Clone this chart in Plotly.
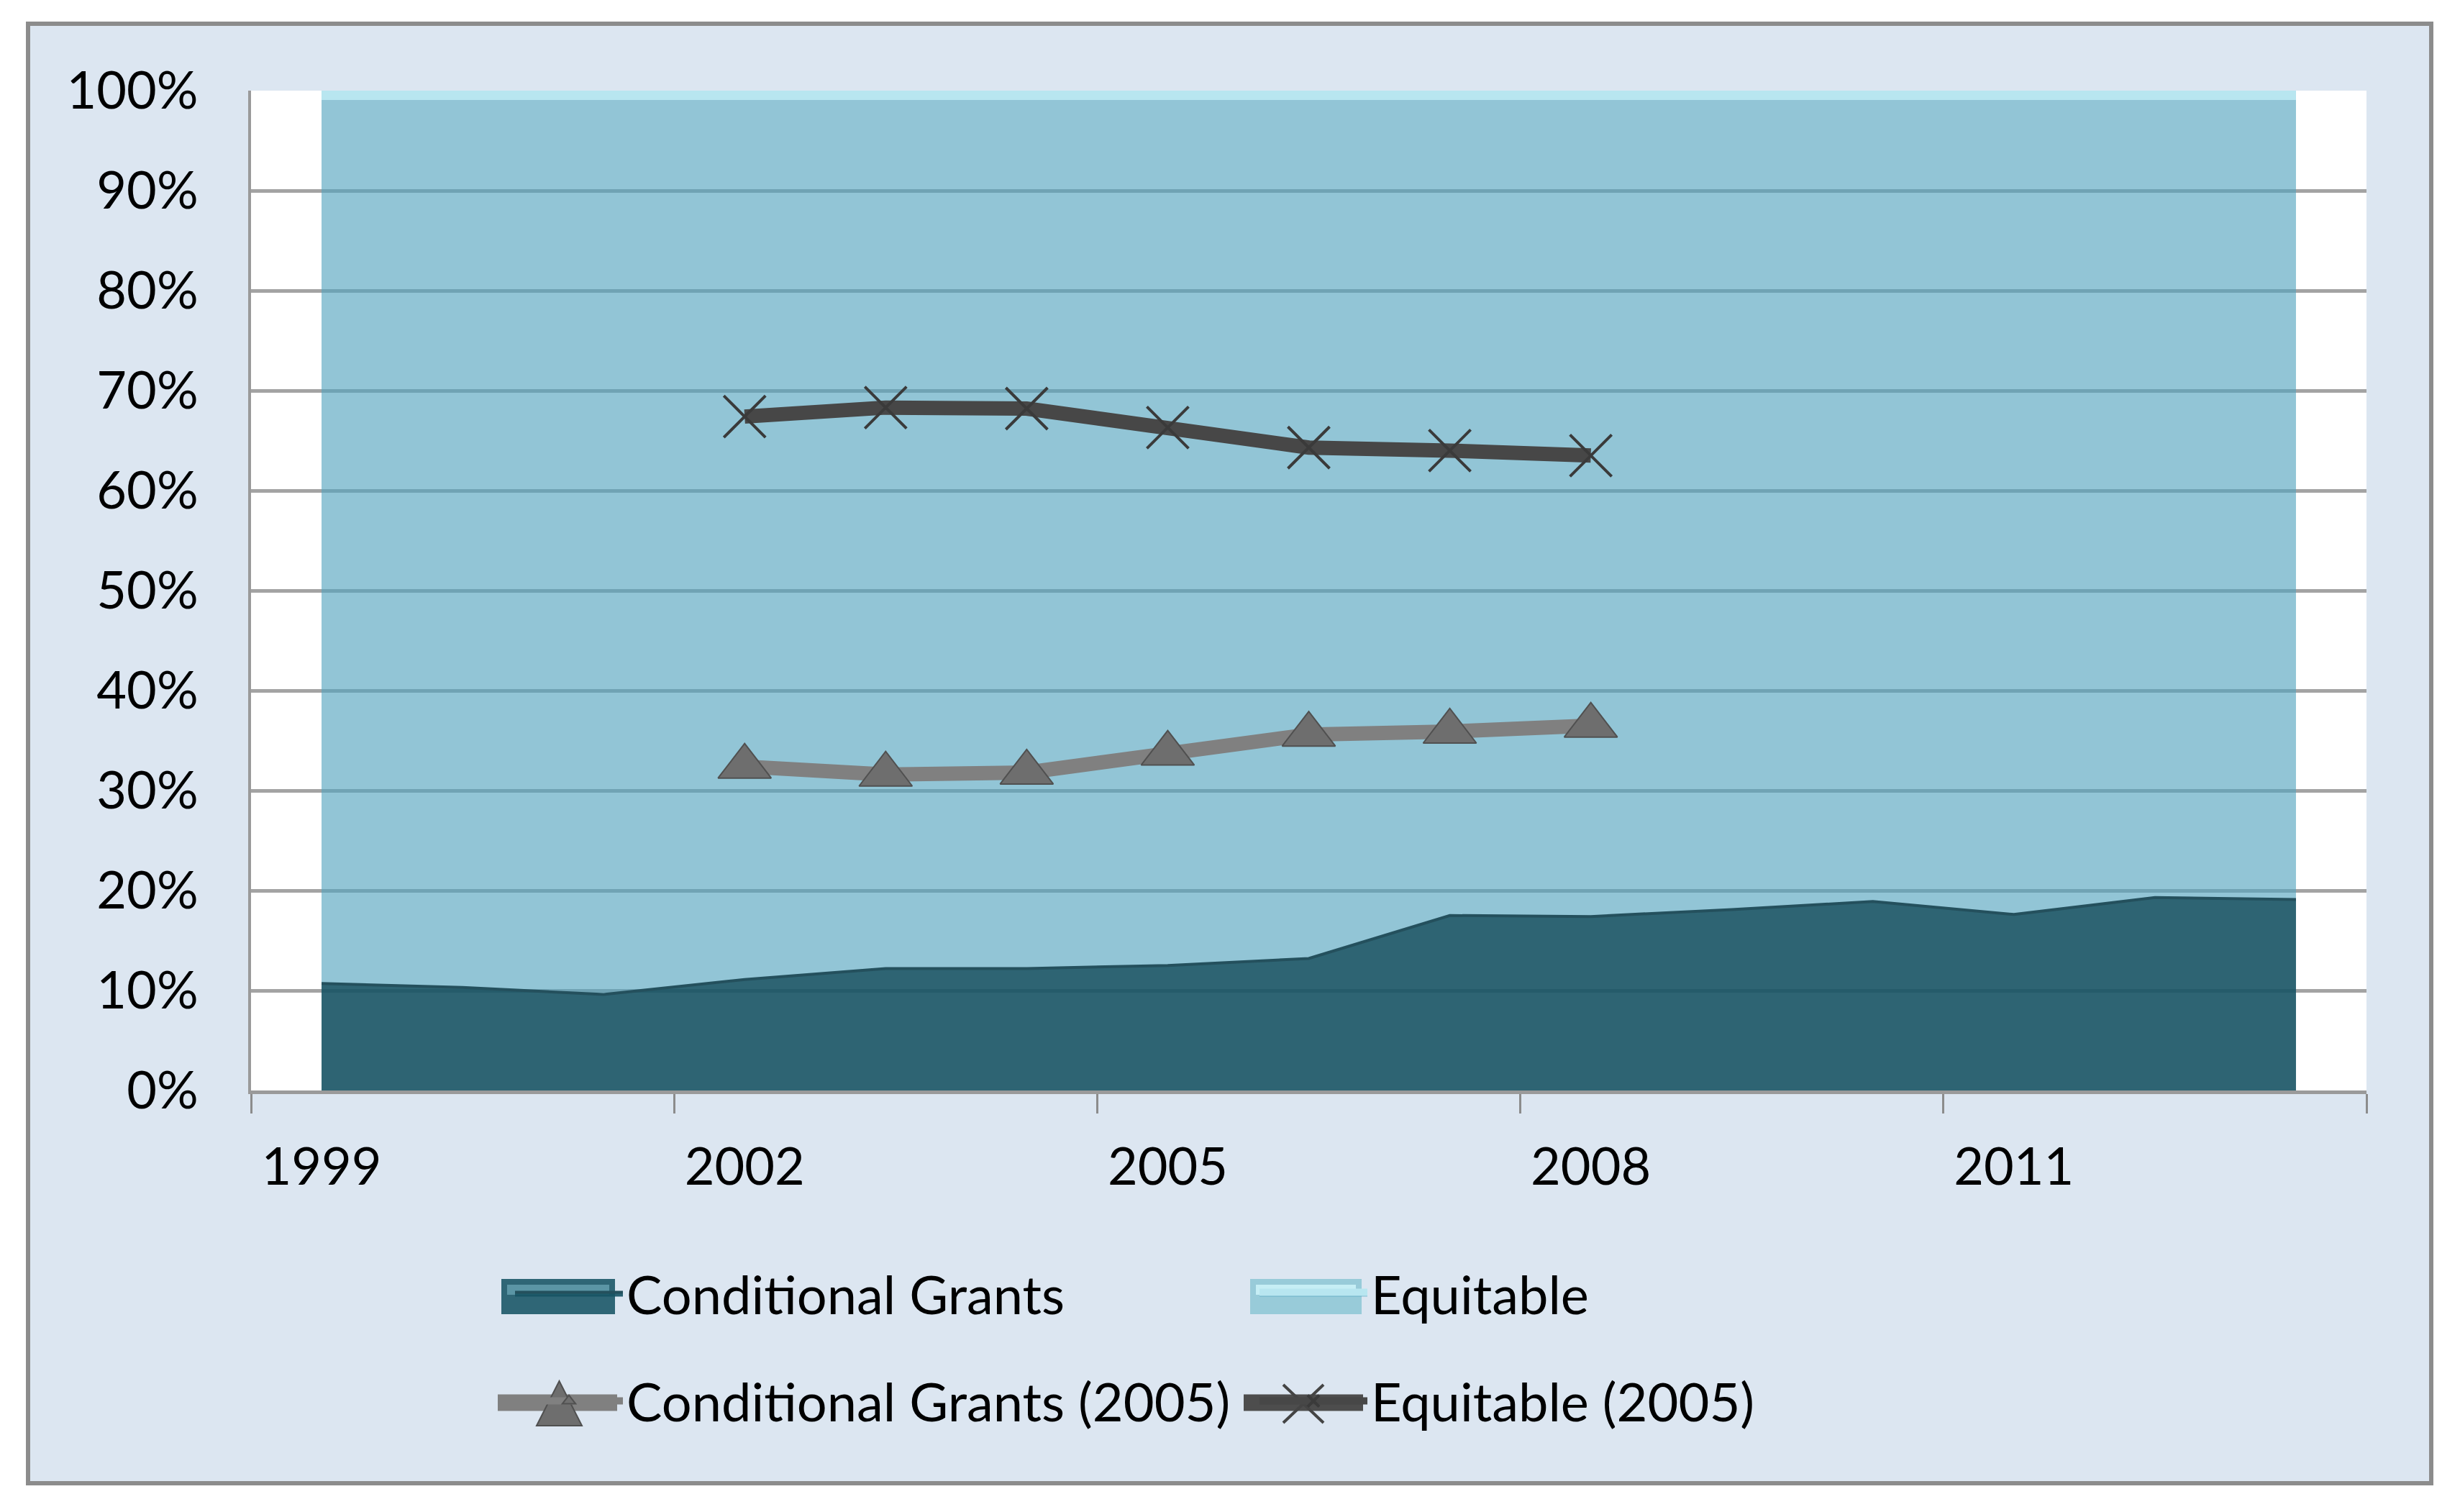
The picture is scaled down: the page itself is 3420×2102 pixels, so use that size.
import plotly.graph_objects as go

# ---------------- data ----------------
years = [1999, 2000, 2001, 2002, 2003, 2004, 2005, 2006, 2007, 2008, 2009, 2010, 2011, 2012, 2013]
conditional_grants = [10.7, 10.3, 9.6, 11.1, 12.2, 12.2, 12.5, 13.2, 17.5, 17.4, 18.1, 18.9, 17.6, 19.3, 19.1]
equitable = [89.3, 89.7, 90.4, 88.9, 87.8, 87.8, 87.5, 86.8, 82.5, 82.6, 81.9, 81.1, 82.4, 80.7, 80.9]

years_2005 = [2002, 2003, 2004, 2005, 2006, 2007, 2008]
conditional_grants_2005 = [32.4, 31.6, 31.8, 33.7, 35.6, 35.9, 36.5]
equitable_2005 = [67.4, 68.3, 68.2, 66.3, 64.3, 64.0, 63.5]

tick_years = [1999, 2002, 2005, 2008, 2011]
tick_labels = ["1999", "2002", "2005", "2008", "2011"]
y_ticks = [0, 10, 20, 30, 40, 50, 60, 70, 80, 90, 100]
y_tick_labels = ["0%", "10%", "20%", "30%", "40%", "50%", "60%", "70%", "80%", "90%", "100%"]

# ---------------- style ----------------
FONT = "Lato, Carlito, Calibri, sans-serif"
FS = 72
BG = "#dce6f1"
CG_COL = "#2f6676"
EQ_COL = "#98cbd9"
CG05_COL = "#808080"
EQ05_COL = "#474747"
x_range = [years[0] - 0.5, years[-1] + 0.5]
boundary_ticks = [y - 0.5 for y in years[::3]] + [years[-1] + 0.5]

fig = go.Figure()

fig.add_trace(go.Scatter(
    x=years, y=conditional_grants, name="Conditional Grants",
    stackgroup="one", mode="lines",
    line=dict(color="#24505d", width=4),
    fillcolor="rgba(23,83,100,0.90)",
    legend="legend",
))
fig.add_trace(go.Scatter(
    x=years, y=equitable, name="Equitable",
    stackgroup="one", mode="lines",
    line=dict(color="#b8e6f0", width=26),
    fillcolor="rgba(82,163,190,0.63)",
    legend="legend",
))
fig.add_trace(go.Scatter(
    x=years_2005, y=conditional_grants_2005, name="Conditional Grants (2005)",
    mode="lines+markers",
    line=dict(color=CG05_COL, width=20),
    marker=dict(symbol="triangle-up", size=64, color="#6e6e6e",
                line=dict(color="#505050", width=2)),
    legend="legend2",
))
fig.add_trace(go.Scatter(
    x=years_2005, y=equitable_2005, name="Equitable (2005)",
    mode="lines+markers",
    line=dict(color=EQ05_COL, width=20),
    marker=dict(symbol="x-thin", size=58, color="#3a3a3a",
                line=dict(color="#3a3a3a", width=4)),
    legend="legend2",
))

# page is offset by the default 8px body margin of the html page
OFF = 8
PAGE_W, PAGE_H = 3420, 2102
W, H = PAGE_W - OFF, PAGE_H - OFF
# plot area in page pixels
PL, PR, PT, PB = 349, 3290, 126, 1516
L, R, T, B = PL - OFF, W - (PR - OFF), PT - OFF, H - (PB - OFF)
pw, ph = PR - PL, PB - PT

def px_x(p):
    return (p - PL) / pw

def px_y(p):
    return (PB - p) / ph

legend_common = dict(
    orientation="h", xanchor="left", yanchor="middle",
    bgcolor="rgba(0,0,0,0)", font=dict(family=FONT, size=74, color="#000000"),
    itemwidth=150, entrywidth=870, traceorder="normal",
)

# larger legend swatches (decoration drawn over the legend symbols)
def rect(x0, y0, x1, y1, color):
    return dict(type="rect", xref="paper", yref="paper", layer="above",
                x0=px_x(x0), x1=px_x(x1), y0=px_y(y1), y1=px_y(y0),
                fillcolor=color, line=dict(width=0))

def seg(x0, y0, x1, y1, color, width):
    return dict(type="line", xref="paper", yref="paper", layer="above",
                x0=px_x(x0), x1=px_x(x1), y0=px_y(y0), y1=px_y(y1),
                line=dict(color=color, width=width))

tri_path = "M{},{} L{},{} L{},{} Z".format(
    px_x(746), px_y(1982), px_x(809), px_y(1982), px_x(777.5), px_y(1920))

legend_swatches = [
    rect(697, 1778, 855, 1827, CG_COL),
    rect(705, 1786, 847, 1800, "#5b95a5"),
    rect(1738, 1778, 1893, 1827, EQ_COL),
    rect(1746, 1786, 1885, 1800, "#c6eef5"),
    seg(692, 1950, 858, 1950, CG05_COL, 23),
    dict(type="path", xref="paper", yref="paper", layer="above", path=tri_path,
         fillcolor="#6e6e6e", line=dict(color="#505050", width=2)),
    seg(1729, 1950, 1895, 1950, "#4d4d4d", 23),
    seg(1784, 1925, 1840, 1978, "#444444", 4),
    seg(1784, 1978, 1840, 1925, "#444444", 4),
]

fig.update_layout(
    width=W, height=H,
    margin=dict(l=L, r=R, t=T, b=B),
    paper_bgcolor="white",
    plot_bgcolor="white",
    font=dict(family=FONT, size=FS, color="#000000"),
    showlegend=True,
    legend=dict(x=px_x(711), y=px_y(1799), **legend_common),
    legend2=dict(x=px_x(711), y=px_y(1948), **legend_common),
    xaxis=dict(
        range=x_range, tickvals=tick_years, ticktext=tick_labels,
        ticks="", showgrid=False, zeroline=False,
        showline=True, linecolor="#9a9a9a", linewidth=5,
        ticklabelstandoff=40,
        minor=dict(tickmode="array", tickvals=boundary_ticks, ticks="outside",
                   ticklen=27, tickwidth=3, tickcolor="#8c8c8c", showgrid=False),
    ),
    yaxis=dict(
        range=[0, 100], tickvals=y_ticks, ticktext=y_tick_labels,
        ticks="", showgrid=True, gridcolor="#a3a3a3", gridwidth=5,
        zeroline=False, showline=True, linecolor="#9a9a9a", linewidth=4,
        ticklabelstandoff=55,
    ),
    shapes=[
        dict(type="rect", xref="paper", yref="paper", layer="below",
             x0=px_x(39), x1=px_x(3380), y0=px_y(2062), y1=px_y(33),
             fillcolor=BG, line=dict(color="#8c8c8c", width=6)),
        dict(type="rect", xref="x domain", yref="y domain", layer="below",
             x0=0, x1=1, y0=0, y1=1, fillcolor="white", line=dict(width=0)),
    ] + legend_swatches,
)

fig.write_html("out.html")
